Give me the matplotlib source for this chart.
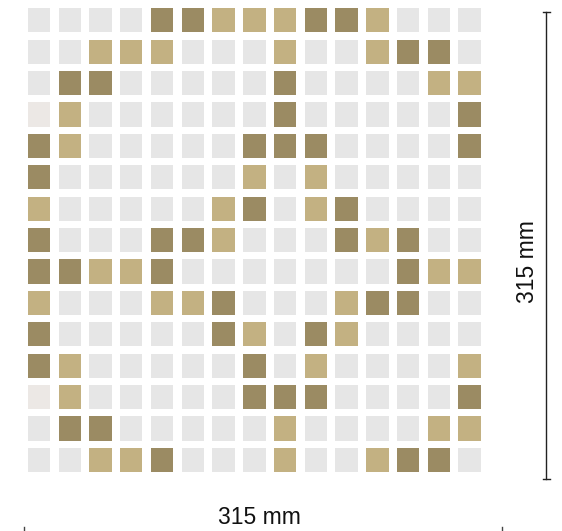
import matplotlib
matplotlib.use("Agg")
import matplotlib.pyplot as plt
from matplotlib.patches import Rectangle

# Tile pattern: 0 = light grey, 1 = off-white, 2 = light tan, 3 = dark olive-brown
rows = [
    "000033222332000",
    "002220002002330",
    "033000003000022",
    "120000003000003",
    "320000033300003",
    "300000020200000",
    "200000230230000",
    "300033200032300",
    "332230000000322",
    "200022300023300",
    "300000320320000",
    "320000030200002",
    "120000033300003",
    "033000002000022",
    "002230002002330",
]
tile_colors = {"0": "#e6e6e6", "1": "#ece8e5", "2": "#c3b182", "3": "#9b8b63"}
dim_label = "315 mm"

W, H = 562, 531
fig = plt.figure(figsize=(W / 100, H / 100), dpi=100)
fig.patch.set_facecolor("white")

# grid axes (pixel extent)
gl, gr, gt, gb = 23.6, 485.0, 4.6, 475.6
ax = fig.add_axes([gl / W, 1 - gb / H, (gr - gl) / W, (gb - gt) / H])
n = len(rows)
ax.set_xlim(0, n)
ax.set_ylim(n, 0)
ax.axis("off")
gx, gy = 0.27, 0.235
for r, row in enumerate(rows):
    for c, code in enumerate(row):
        ax.add_patch(Rectangle((c + gx / 2, r + gy / 2), 1 - gx, 1 - gy,
                               facecolor=tile_colors[code], edgecolor="none"))

# annotation axes in pixel coordinates
ov = fig.add_axes([0, 0, 1, 1], facecolor="none")
ov.set_xlim(0, W)
ov.set_ylim(H, 0)
ov.axis("off")
font = ["Liberation Sans", "DejaVu Sans"]
# vertical dimension line
vx, vy0, vy1 = 546, 12, 479
ov.plot([vx, vx], [vy0, vy1], color="#222222", lw=1.0)
ov.plot([vx - 3.5, vx + 3.5], [vy0, vy0], color="#222222", lw=1.0)
ov.plot([vx - 3.5, vx + 3.5], [vy1, vy1], color="#222222", lw=1.0)
ov.text(527, 262, dim_label, rotation=90, ha="center", va="center",
        fontsize=16.5, family=font, color="#111111")
# bottom dimension
ov.text(259, 517, dim_label, ha="center", va="center",
        fontsize=16.5, family=font, color="#111111")
for bx in (24, 502):
    ov.plot([bx, bx], [527, 531], color="#444444", lw=1.0)

fig.savefig("out.png", dpi=100, facecolor="white")
